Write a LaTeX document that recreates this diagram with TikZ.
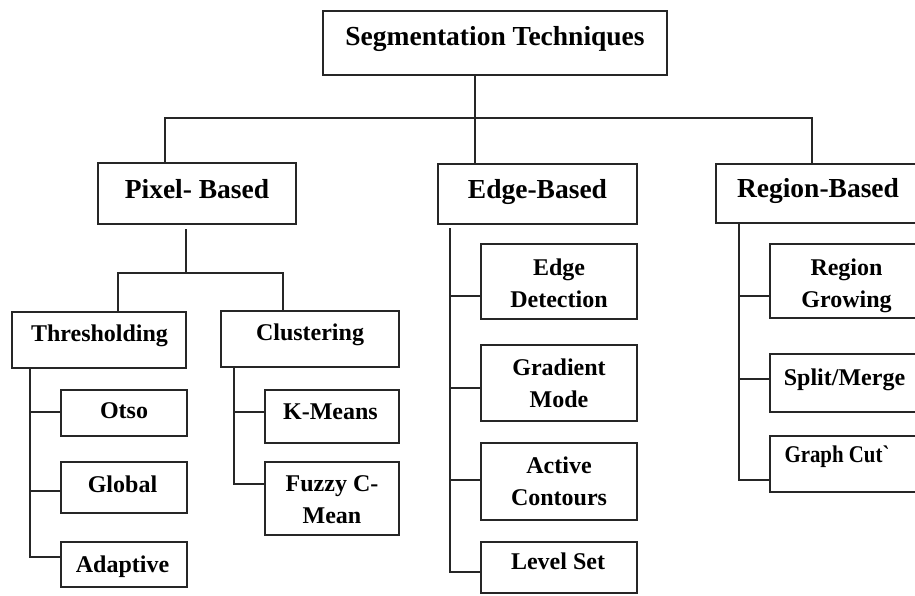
\documentclass[tikz,border=0pt]{standalone}
\usepackage{fontspec}
\setmainfont{Liberation Serif}[Ligatures=TeXOff]
\newfontfamily\narrowserif{Liberation Serif}[Ligatures=TeXOff, FakeStretch=0.87]
\newcommand\mybox[5]{\node[box, minimum width={(#4-#2)*1pt}, minimum height={(#5-#3)*1pt}] (#1) at ({(#2+#4)/2},{(#3+#5)/2}) {};}
\begin{document}
\begin{tikzpicture}[x=1pt,y=-1pt,
  box/.style={draw=black!85, line width=1.6pt, inner sep=0pt, outer sep=0pt},
  conn/.style={draw=black!85, line width=1.6pt},
  big/.style={font=\fontsize{27.5}{32}\selectfont\bfseries, inner sep=0pt, anchor=base},
  small/.style={font=\fontsize{24}{32}\selectfont\bfseries, inner sep=0pt, anchor=base, align=center}]
\useasboundingbox (0,0) rectangle (915,596);
\fill[white] (0,0) rectangle (915,596);
\clip (0,0) rectangle (915,596);
% boxes
\mybox{top}{323}{11}{667}{75}
\mybox{pix}{98}{163}{296}{224}
\mybox{edge}{438}{164}{637}{224}
\mybox{reg}{716}{164}{925}{223}
\mybox{thr}{12}{312}{186}{368}
\mybox{clu}{221}{311}{399}{367}
\mybox{otso}{61}{390}{187}{436}
\mybox{glob}{61}{462}{187}{513}
\mybox{adap}{61}{542}{187}{587}
\mybox{kmeans}{265}{390}{399}{443}
\mybox{fuzzy}{265}{462}{399}{535}
\mybox{edet}{481}{244}{637}{319}
\mybox{grad}{481}{345}{637}{421}
\mybox{act}{481}{443}{637}{520}
\mybox{lvl}{481}{542}{637}{593}
\mybox{rgrow}{770}{244}{925}{318}
\mybox{split}{770}{354}{925}{412}
\mybox{gcut}{770}{436}{925}{492}
% texts (base anchor = baseline of last line)
\node[big] (top-t) at (495,45.5) {Segmentation Techniques};
\node[big] (pix-t) at (197,199) {Pixel- Based};
\node[big] (edge-t) at (537.5,198) {Edge-Based};
\node[big] (reg-t) at (818,197) {Region-Based};
\node[small] (thr-t) at (99.5,341) {Thresholding};
\node[small] (clu-t) at (310,340) {Clustering};
\node[small] (otso-t) at (124,418) {Otso};
\node[small] (glob-t) at (122.5,492) {Global};
\node[small] (adap-t) at (122.5,572) {Adaptive};
\node[small] (kmeans-t) at (330.5,419) {K-Means};
\node[small] (fuzzy-t) at (332,523) {Fuzzy C-\\Mean};
\node[small] (edet-t) at (559,307) {Edge\\Detection};
\node[small] (grad-t) at (559,407) {Gradient\\Mode};
\node[small] (act-t) at (559,505) {Active\\Contours};
\node[small] (lvl-t) at (558,569) {Level Set};
\node[small] (rgrow-t) at (846.5,307) {Region\\Growing};
\node[small] (split-t) at (844.5,385) {Split/Merge};
\node[small, font=\fontsize{24}{32}\selectfont\narrowserif\bfseries] (gcut-t) at (837,462) {Graph Cut`};
% junction coordinates
\coordinate (hL) at (165,118);
\coordinate (hM) at (475,118);
\coordinate (hR) at (812,118);
\coordinate (p1) at (186,229);
\coordinate (p2) at (186,273);
\coordinate (pL) at (118,273);
\coordinate (pR) at (283,273);
\coordinate (tO) at (30,412);
\coordinate (tG) at (30,491);
\coordinate (tA) at (30,557);
\coordinate (cK) at (234,412);
\coordinate (cF) at (234,484);
\coordinate (e0) at (450,228);
\coordinate (eD) at (450,296);
\coordinate (eG) at (450,388);
\coordinate (eA) at (450,480);
\coordinate (eL) at (450,572);
\coordinate (rG) at (739,296);
\coordinate (rS) at (739,379);
\coordinate (rC) at (739,480);
% connectors
\draw[conn] (top.south -| hM) -- (hM);
\draw[conn] (pix.north -| hL) -- (hL) -- (hR) -- (reg.north -| hR);
\draw[conn] (hM) -- (edge.north -| hM);
\draw[conn] (p1) -- (p2);
\draw[conn] (thr.north -| pL) -- (pL) -- (pR) -- (clu.north -| pR);
\draw[conn] (thr.south -| tA) -- (tA) -- (adap.west |- tA);
\draw[conn] (tO) -- (otso.west |- tO);
\draw[conn] (tG) -- (glob.west |- tG);
\draw[conn] (clu.south -| cF) -- (cF) -- (fuzzy.west |- cF);
\draw[conn] (cK) -- (kmeans.west |- cK);
\draw[conn] (e0) -- (eL) -- (lvl.west |- eL);
\draw[conn] (eD) -- (edet.west |- eD);
\draw[conn] (eG) -- (grad.west |- eG);
\draw[conn] (eA) -- (act.west |- eA);
\draw[conn] (reg.south -| rC) -- (rC) -- (gcut.west |- rC);
\draw[conn] (rG) -- (rgrow.west |- rG);
\draw[conn] (rS) -- (split.west |- rS);
\end{tikzpicture}
\end{document}
